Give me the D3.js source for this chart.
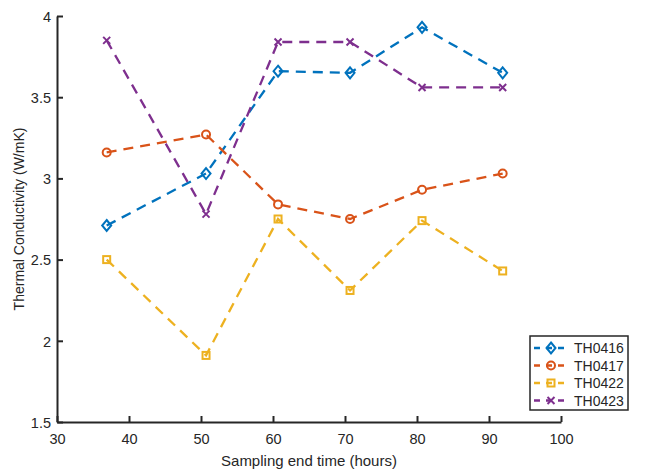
<!DOCTYPE html>
<html>
<head>
<meta charset="utf-8">
<script src="https://cdn.jsdelivr.net/npm/d3@7"></script>
<style>
  body { margin: 0; background: #fff; }
  svg { font-family: "Liberation Sans", Arial, sans-serif; }
</style>
</head>
<body>
<div id="chart"></div>
<script>
// sampling end times (hours)
var times = [36.9, 50.7, 60.7, 70.7, 80.7, 91.9];
var th0416 = [2.71, 3.03, 3.66, 3.65, 3.93, 3.65];
var th0417 = [3.16, 3.27, 2.84, 2.75, 2.93, 3.03];
var th0422 = [2.50, 1.91, 2.75, 2.31, 2.74, 2.43];
var th0423 = [3.85, 2.78, 3.84, 3.84, 3.56, 3.56];
var seriesNames = ["TH0416", "TH0417", "TH0422", "TH0423"];
var xTicks = [30, 40, 50, 60, 70, 80, 90, 100];
var yTicks = [1.5, 2, 2.5, 3, 3.5, 4];

var width = 650, height = 469;
var margin = {top: 16, left: 57, bottom: 47, right: 89};
var axisColor = "#262626";

var colors = ["#0072BD", "#D95319", "#EDB120", "#7E2F8E"];
var shapes = ["diamond", "circle", "square", "cross"];
var allValues = [th0416, th0417, th0422, th0423];

var series = seriesNames.map(function(name, i) {
  return {
    name: name, color: colors[i], shape: shapes[i],
    points: times.map(function(t, j) { return {x: t, y: allValues[i][j]}; })
  };
});

var svg = d3.select("#chart").append("svg")
  .attr("width", width)
  .attr("height", height);

var x = d3.scaleLinear().domain([30, 100]).range([margin.left, width - margin.right]);
var y = d3.scaleLinear().domain([1.5, 4]).range([height - margin.bottom, margin.top]);

// axes, MATLAB style: ticks point inward, no box
var xAxis = svg.append("g")
  .attr("transform", "translate(0," + y(1.5) + ")")
  .call(d3.axisBottom(x).tickValues(xTicks).tickSizeInner(-6).tickSizeOuter(0).tickPadding(12));
var yAxis = svg.append("g")
  .attr("transform", "translate(" + x(30) + ",0)")
  .call(d3.axisLeft(y).tickValues(yTicks).tickSizeInner(-6).tickSizeOuter(0).tickPadding(6)
    .tickFormat(d3.format("")));

[xAxis, yAxis].forEach(function(a) {
  a.select(".domain").attr("stroke", axisColor).attr("stroke-width", 2);
  a.selectAll(".tick line").attr("stroke", axisColor).attr("stroke-width", 2);
  a.selectAll(".tick text").attr("fill", axisColor).attr("font-size", "14.5px")
    .attr("font-family", "Liberation Sans, Arial, sans-serif");
});
yAxis.selectAll(".tick text").attr("dy", "0.36em");

svg.append("text")
  .attr("x", (x(30) + x(100)) / 2)
  .attr("y", 466)
  .attr("text-anchor", "middle")
  .attr("font-size", "15px")
  .attr("fill", axisColor)
  .text("Sampling end time (hours)");

svg.append("text")
  .attr("transform", "translate(24," + (y(1.5) + y(4)) / 2 + ") rotate(-90)")
  .attr("text-anchor", "middle")
  .attr("font-size", "14px")
  .attr("fill", axisColor)
  .text("Thermal Conductivity (W/mK)");

var line = d3.line().x(function(d) { return x(d.x); }).y(function(d) { return y(d.y); });

function drawMarker(sel, shape, color) {
  if (shape === "circle") {
    sel.append("circle").attr("r", 4).attr("fill", "none")
      .attr("stroke", color).attr("stroke-width", 2);
  } else if (shape === "diamond") {
    sel.append("path").attr("d", "M0,-5.5L4.5,0L0,5.5L-4.5,0Z").attr("fill", "none")
      .attr("stroke", color).attr("stroke-width", 2);
  } else if (shape === "square") {
    sel.append("rect").attr("x", -3.5).attr("y", -3.5).attr("width", 7).attr("height", 7)
      .attr("fill", "none").attr("stroke", color).attr("stroke-width", 2);
  } else {
    sel.append("path").attr("d", "M-3.5,-3.5L3.5,3.5M-3.5,3.5L3.5,-3.5")
      .attr("stroke", color).attr("stroke-width", 2);
  }
}

var lines = svg.append("g");
series.forEach(function(s) {
  lines.append("path")
    .datum(s.points)
    .attr("d", line)
    .attr("fill", "none")
    .attr("stroke", s.color)
    .attr("stroke-width", 2.3)
    .attr("stroke-dasharray", "10,7");

  lines.selectAll(".m-" + s.name).data(s.points).enter()
    .append("g")
    .attr("class", "m-" + s.name)
    .attr("transform", function(d) { return "translate(" + x(d.x) + "," + y(d.y) + ")"; })
    .each(function() { drawMarker(d3.select(this), s.shape, s.color); });
});

// legend
var legend = svg.append("g").attr("transform", "translate(530,336)");
legend.append("rect")
  .attr("width", 98).attr("height", 74)
  .attr("fill", "#fff").attr("stroke", axisColor).attr("stroke-width", 1.5);

series.forEach(function(s, i) {
  var row = legend.append("g").attr("transform", "translate(0," + (12 + i * 17.5) + ")");
  row.append("line").attr("x1", 4).attr("x2", 34).attr("y1", 0).attr("y2", 0)
    .attr("stroke", s.color).attr("stroke-width", 2.3).attr("stroke-dasharray", "6,6");
  row.append("g").attr("transform", "translate(21,0)")
    .each(function() { drawMarker(d3.select(this), s.shape, s.color); });
  row.append("text").attr("x", 44).attr("y", 0).attr("dy", "0.36em")
    .attr("font-size", "14px").attr("fill", axisColor).text(s.name);
});
</script>
</body>
</html>
